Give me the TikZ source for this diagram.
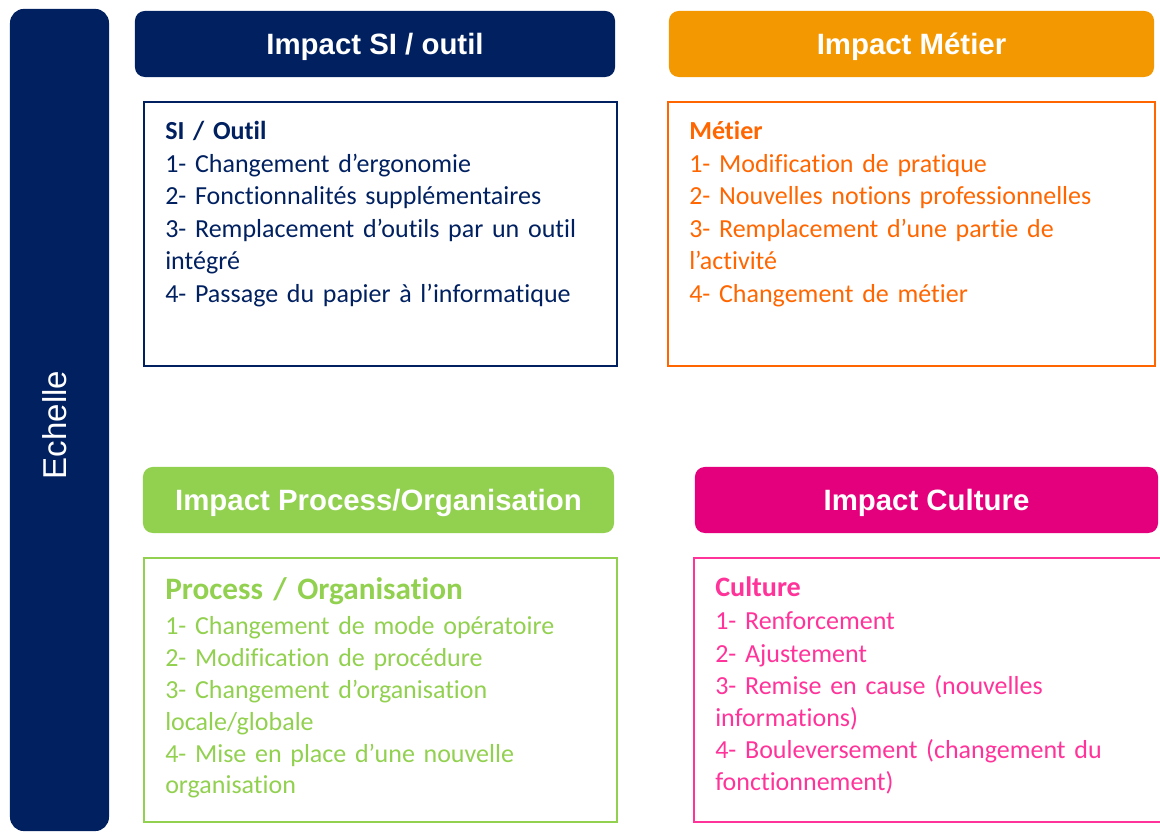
\documentclass[tikz,border=0pt]{standalone}
\usepackage{fontspec}
\setmainfont{Carlito}[Ligatures=NoCommon]
\newfontfamily\hdfont{Liberation Sans}
\usetikzlibrary{positioning}

\definecolor{navy}{HTML}{002060}
\definecolor{orfill}{HTML}{F39800}
\definecolor{orline}{HTML}{FF6600}
\definecolor{grn}{HTML}{92D050}
\definecolor{magfill}{HTML}{E4007C}
\definecolor{pnk}{HTML}{FF3399}

\tikzset{
  header/.style={rounded corners=7pt, minimum height=1.65cm, inner sep=0pt,
    text depth=0pt, text=white, font=\hdfont\bfseries\fontsize{20.9}{24}\selectfont},
  frame/.style={line width=1.8pt, minimum height=6.6cm, inner sep=0pt},
  body/.style={anchor=base west, align=left, text width=11.5cm, inner sep=0pt,
    font=\fontsize{18.5}{23.1}\selectfont},
}

\begin{document}
\begin{tikzpicture}[x=0.025cm,y=-0.025cm]

  \clip (0,0) rectangle (1160,832);

  % scale bar on the left
  \node[fill=navy, rounded corners=10pt, minimum width=2.475cm, minimum height=20.55cm,
        inner sep=0pt] (bar) at (59.5,420) {};
  \node[rotate=90, text=white, font=\hdfont\fontsize{23.5}{26}\selectfont] (echelle) at (55,425) {Echelle};

  % headers
  \node[header, fill=navy, minimum width=12cm] (hsi) at (375,44) {Impact SI / outil};
  \node[header, fill=orfill, minimum width=12.125cm] (hmet) at (911.5,44) {Impact Métier};
  \node[header, fill=grn, minimum width=11.775cm] (hpro) at (378.5,500) {Impact Process/Organisation};
  \node[header, fill=magfill, minimum width=11.575cm] (hcul) at (926.5,500) {Impact Culture};

  % frames
  \node[frame, draw=navy, minimum width=11.825cm] (bsi) at (380.5,234) {};
  \node[frame, draw=orline, minimum width=12.175cm] (bmet) at (911.5,234) {};
  \node[frame, draw=grn, minimum width=11.825cm] (bpro) at (380.5,690) {};
  \node[frame, draw=pnk, minimum width=12cm] (bcul) at (934,690) {};

  % texts
  \node[body, text=navy] (tsi) at (165,140) {\textbf{SI / Outil}\\
    1- Changement d’ergonomie\\
    2- Fonctionnalités supplémentaires\\
    3- Remplacement d’outils par un outil\\
    intégré\\
    4- Passage du papier à l’informatique};

  \node[body, text=orline] (tmet) at (689,140) {\textbf{Métier}\\
    1- Modification de pratique\\
    2- Nouvelles notions professionnelles\\
    3- Remplacement d’une partie de\\
    l’activité\\
    4- Changement de métier};

  \node[body, text=grn, font=\bfseries\fontsize{22.2}{26}\selectfont] (ttpro) at (165,600) {Process / Organisation};
  \node[body, text=grn, font=\fontsize{18.5}{22.6}\selectfont] (tpro) at (165,635) {1- Changement de mode opératoire\\
    2- Modification de procédure\\
    3- Changement d’organisation\\
    locale/globale\\
    4- Mise en place d’une nouvelle\\
    organisation};

  \node[body, text=pnk, font=\bfseries\fontsize{20}{24}\selectfont] (ttcul) at (715,597) {Culture};
  \node[body, text=pnk, font=\fontsize{18.5}{22.8}\selectfont] (tcul) at (715,630) {1- Renforcement\\
    2- Ajustement\\
    3- Remise en cause (nouvelles\\
    informations)\\
    4- Bouleversement (changement du\\
    fonctionnement)};

\end{tikzpicture}
\end{document}
